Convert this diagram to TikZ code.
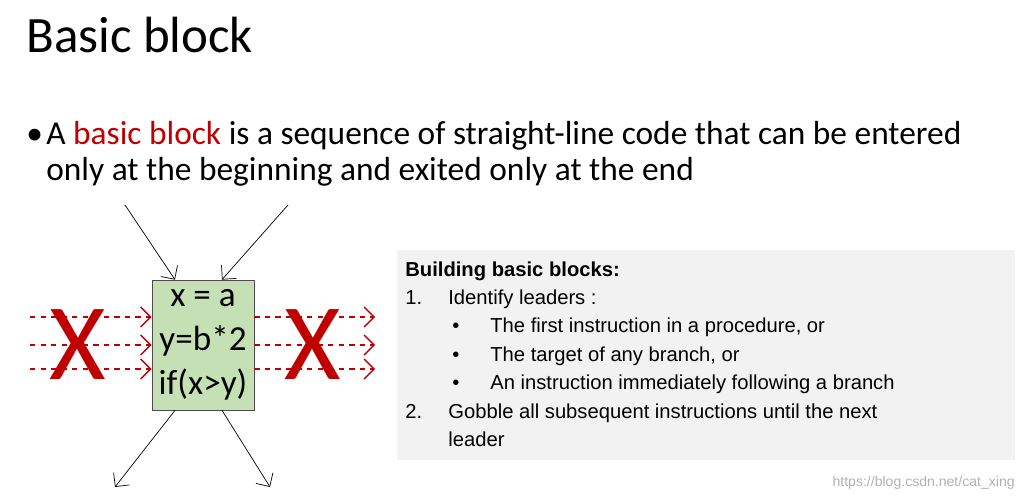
\documentclass[tikz,border=0pt]{standalone}
\usepackage{fontspec}
\setmainfont{Carlito}
\newfontfamily\arialfont{Liberation Sans}
\usetikzlibrary{arrows.meta}
\definecolor{blockred}{RGB}{192,0,0}
\definecolor{blockgreen}{RGB}{197,224,180}
\definecolor{notegray}{RGB}{242,242,242}
\begin{document}
\begin{tikzpicture}[x=0.02cm,y=-0.02cm,
  >={Straight Barb[length=2mm]},
  flow/.style={->,thin},
  bad/.style={->,dashed,blockred,thick},
  cross/.style={text=blockred,font=\fontsize{62}{62}\selectfont},
  lab/.style={anchor=base west,inner sep=0pt,font=\arialfont\fontsize{11.5}{12}\selectfont}]
  \useasboundingbox (0,0) rectangle (1025,500);

  \node[anchor=base west,inner sep=0pt,font=\fontsize{29}{30}\selectfont] (title) at (26,53) {Basic block};
  \node[anchor=base west,inner sep=0pt,font=\fontsize{19}{20}\selectfont] (bul) at (26,145) {\textbullet};
  \node[anchor=base west,inner sep=0pt,font=\fontsize{19}{20}\selectfont] (line1) at (46,145)
    {A \textcolor{blockred}{basic block} is a sequence of straight-line code that can be entered};
  \node[anchor=base west,inner sep=0pt,font=\fontsize{19}{20}\selectfont] (line2) at (46,180)
    {only at the beginning and exited only at the end};

  % the block
  \node[draw=black!70,fill=blockgreen,minimum width=102*0.02cm,minimum height=130*0.02cm,
        align=center,font=\fontsize{20}{25}\selectfont] (blk) at (203,345) {x = a\\y=b*2\\if(x>y)};

  \coordinate (in1) at (125,205);
  \coordinate (in2) at (288,205);
  \coordinate (out1) at (115,487);
  \coordinate (out2) at (270,487);
  \draw[flow] (in1) -- (blk.north west -| 175,0);
  \draw[flow] (in2) -- (blk.north west -| 222,0);
  \draw[flow] (blk.south west -| 175,0) -- (out1);
  \draw[flow] (blk.south west -| 222,0) -- (out2);

  \foreach \yy in {317,345,369} {
    \draw[bad] (30,\yy) -- (blk.west |- 0,\yy);
    \draw[bad] (blk.east |- 0,\yy) -- (375,\yy);
  }
  \node[cross] (xl) at (78,345) {X};
  \node[cross] (xr) at (313,345) {X};

  % the note
  \fill[notegray] (397,250) rectangle (1015,460);
  \node[lab,font=\arialfont\bfseries\fontsize{11.5}{12}\selectfont] (head) at (405,276) {Building basic blocks:};
  \node[lab] (n1) at (405,304) {1.};
  \node[lab] (t1) at (448,304) {Identify leaders :};
  \foreach \yy/\txt in {332/{The first instruction in a procedure, or},
                        361/{The target of any branch, or},
                        389/{An instruction immediately following a branch}} {
    \node[lab] at (452,\yy) {\textbullet};
    \node[lab] at (490,\yy) {\txt};
  }
  \node[lab] (n2) at (405,418) {2.};
  \node[lab] (t2) at (448,418) {Gobble all subsequent instructions until the next};
  \node[lab] (t3) at (448,446) {leader};

  \node[anchor=base east,inner sep=0pt,text=black!30,font=\arialfont\fontsize{8}{9}\selectfont] (mark) at (1015,486)
    {https://blog.csdn.net/cat\_xing};
\end{tikzpicture}
\end{document}
